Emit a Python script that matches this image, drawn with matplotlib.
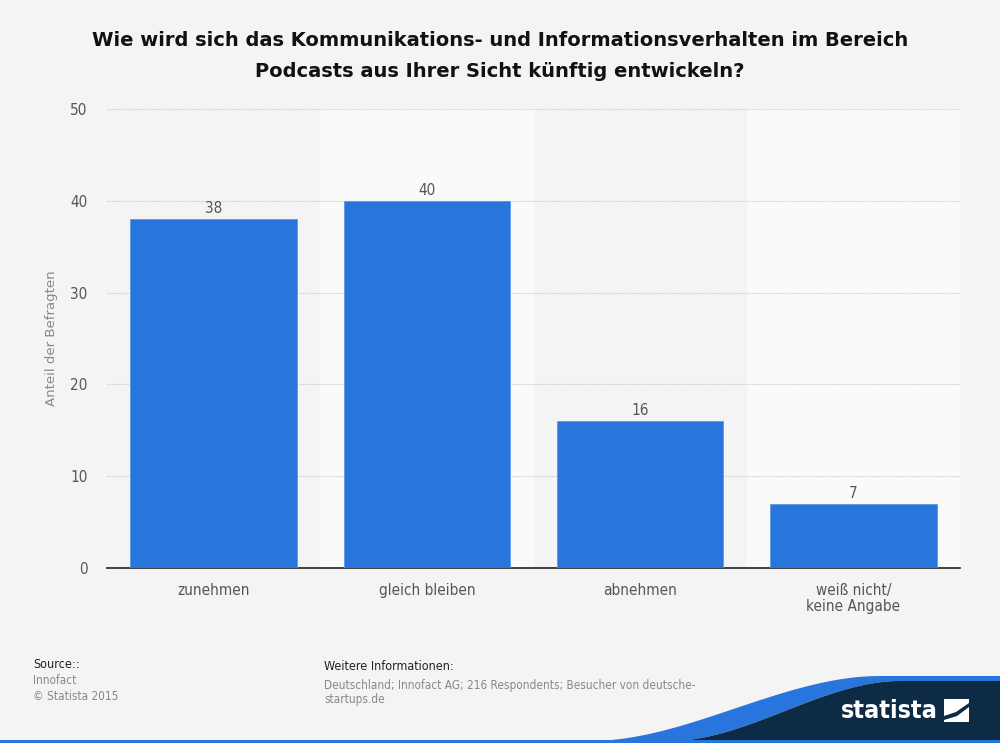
import numpy as np
import matplotlib.pyplot as plt
from matplotlib.patches import Polygon, Rectangle

categories = ['zunehmen', 'gleich bleiben', 'abnehmen', 'weiß nicht/\nkeine Angabe']
values = [38, 40, 16, 7]
yticks = [0, 10, 20, 30, 40, 50]

plt.rcParams['font.family'] = ['DejaVu Sans']
plt.rcParams['font.stretch'] = 'condensed'

W, H = 1000, 743
fig = plt.figure(figsize=(10, 7.43), dpi=100, facecolor='#f4f4f4')
ax = fig.add_axes([107 / W, 1 - 568 / H, 853 / W, (568 - 109) / H])
ax.set_facecolor('#f4f4f4')

x = np.arange(len(categories))
# alternating background bands
for i in x:
    if i % 2 == 1:
        ax.axvspan(i - 0.5, i + 0.5, color='#fafafa', zorder=0, lw=0)

ax.set_xlim(-0.5, len(categories) - 0.5)
ax.set_ylim(0, 50)
ax.set_yticks(yticks)
ax.yaxis.grid(True, color='#c8c8c8', linestyle=(0, (1, 1)), lw=0.8, zorder=1)
ax.set_axisbelow(True)

bars = ax.bar(x, values, width=0.78, color='#2876dd', edgecolor='#5a9ae8', lw=0.6, zorder=3)
for xi, v in zip(x, values):
    ax.text(xi, v + 0.3, str(v), ha='center', va='bottom', fontsize=11, color='#555555', zorder=4)

for s in ['top', 'right', 'left']:
    ax.spines[s].set_visible(False)
ax.spines['bottom'].set_color('#222222')
ax.spines['bottom'].set_linewidth(1.2)

ax.set_xticks(x)
ax.set_xticklabels(categories, fontsize=11, color='#555555', linespacing=1.1)
ax.tick_params(axis='x', length=0, pad=11)
ax.tick_params(axis='y', length=0, pad=14, labelsize=11, labelcolor='#555555')
ax.set_ylabel('Anteil der Befragten', fontsize=9.5, color='#888888', fontstretch='normal')
ax.yaxis.set_label_coords(-0.058, 0.5)

fig.text(0.5, 1 - 56 / H, 'Wie wird sich das Kommunikations- und Informationsverhalten im Bereich\nPodcasts aus Ihrer Sicht künftig entwickeln?',
         ha='center', va='center', fontsize=14, fontweight='bold', fontstretch='normal',
         color='#111111', linespacing=1.75)

# footer
fig.text(33 / W, 1 - 665 / H, 'Source::', fontsize=9, color='#222222', va='center')
fig.text(33 / W, 1 - 680 / H, 'Innofact', fontsize=8.5, color='#888888', va='center')
fig.text(33 / W, 1 - 697 / H, '© Statista 2015', fontsize=8.5, color='#888888', va='center')
fig.text(324 / W, 1 - 667 / H, 'Weitere Informationen:', fontsize=9, color='#222222', va='center')
fig.text(324 / W, 1 - 685 / H, 'Deutschland; Innofact AG; 216 Respondents; Besucher von deutsche-', fontsize=8.5, color='#888888', va='center')
fig.text(324 / W, 1 - 700 / H, 'startups.de', fontsize=8.5, color='#888888', va='center')


# statista logo swoosh
def swoosh(x0, x1, y0, y1):
    t = np.linspace(0, 1, 80)
    s = 3 * t ** 2 - 2 * t ** 3
    return list(zip((x0 + (x1 - x0) * t) / W, 1 - (y0 - (y0 - y1) * s) / H))


top = swoosh(590, 880, 741, 676)
inner = swoosh(670, 900, 741, 681)
blue = top + [(1, 1 - 676 / H), (1, 1 - 681 / H)] + inner[::-1]
dark = inner + [(1, 1 - 681 / H), (1, 0), (670 / W, 0)]
fig.patches.append(Polygon(blue, closed=True, transform=fig.transFigure, facecolor='#2876dd', edgecolor='none'))
fig.patches.append(Polygon(dark, closed=True, transform=fig.transFigure, facecolor='#0d2b45', edgecolor='none'))
fig.patches.append(Rectangle((0, 0), 1, 3 / H, transform=fig.transFigure, facecolor='#2876dd', edgecolor='none'))
fig.text(889 / W, 1 - 711 / H, 'statista', fontsize=18, fontweight='bold', color='white', ha='center', va='center')
fig.patches.append(Rectangle((944 / W, 1 - 722 / H), 25 / W, 23 / H, transform=fig.transFigure,
                             facecolor='white', edgecolor='none'))
fig.patches.append(Polygon([(944 / W, 1 - 716 / H), (956 / W, 1 - 712 / H), (969 / W, 1 - 703 / H),
                            (969 / W, 1 - 707 / H), (957 / W, 1 - 716 / H), (944 / W, 1 - 720 / H)],
                           closed=True, transform=fig.transFigure, facecolor='#0d2b45', edgecolor='none'))

fig.savefig('out.png', dpi=100, facecolor=fig.get_facecolor())
